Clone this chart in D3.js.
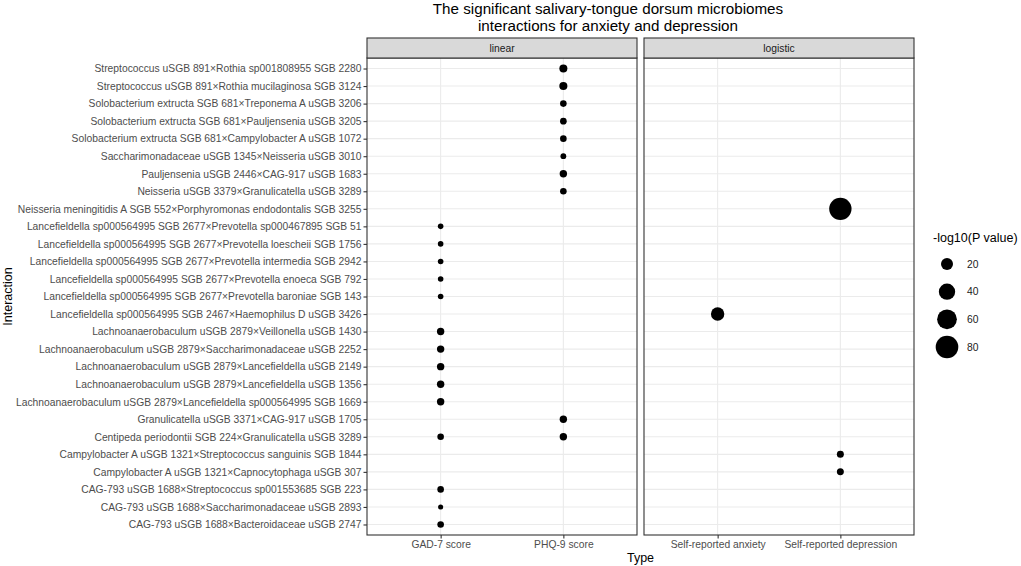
<!DOCTYPE html>
<html>
<head>
<meta charset="utf-8">
<script src="https://cdn.jsdelivr.net/npm/d3@7"></script>
<style>
  body { margin: 0; background: #fff; }
  text { font-family: "Liberation Sans", Arial, sans-serif; }
</style>
</head>
<body>
<svg id="chart"></svg>
<script>
// rows, top to bottom
const interactions = [
  "Streptococcus uSGB 891×Rothia sp001808955 SGB 2280",
  "Streptococcus uSGB 891×Rothia mucilaginosa SGB 3124",
  "Solobacterium extructa SGB 681×Treponema A uSGB 3206",
  "Solobacterium extructa SGB 681×Pauljensenia uSGB 3205",
  "Solobacterium extructa SGB 681×Campylobacter A uSGB 1072",
  "Saccharimonadaceae uSGB 1345×Neisseria uSGB 3010",
  "Pauljensenia uSGB 2446×CAG-917 uSGB 1683",
  "Neisseria uSGB 3379×Granulicatella uSGB 3289",
  "Neisseria meningitidis A SGB 552×Porphyromonas endodontalis SGB 3255",
  "Lancefieldella sp000564995 SGB 2677×Prevotella sp000467895 SGB 51",
  "Lancefieldella sp000564995 SGB 2677×Prevotella loescheii SGB 1756",
  "Lancefieldella sp000564995 SGB 2677×Prevotella intermedia SGB 2942",
  "Lancefieldella sp000564995 SGB 2677×Prevotella enoeca SGB 792",
  "Lancefieldella sp000564995 SGB 2677×Prevotella baroniae SGB 143",
  "Lancefieldella sp000564995 SGB 2467×Haemophilus D uSGB 3426",
  "Lachnoanaerobaculum uSGB 2879×Veillonella uSGB 1430",
  "Lachnoanaerobaculum uSGB 2879×Saccharimonadaceae uSGB 2252",
  "Lachnoanaerobaculum uSGB 2879×Lancefieldella uSGB 2149",
  "Lachnoanaerobaculum uSGB 2879×Lancefieldella uSGB 1356",
  "Lachnoanaerobaculum uSGB 2879×Lancefieldella sp000564995 SGB 1669",
  "Granulicatella uSGB 3371×CAG-917 uSGB 1705",
  "Centipeda periodontii SGB 224×Granulicatella uSGB 3289",
  "Campylobacter A uSGB 1321×Streptococcus sanguinis SGB 1844",
  "Campylobacter A uSGB 1321×Capnocytophaga uSGB 307",
  "CAG-793 uSGB 1688×Streptococcus sp001553685 SGB 223",
  "CAG-793 uSGB 1688×Saccharimonadaceae uSGB 2893",
  "CAG-793 uSGB 1688×Bacteroidaceae uSGB 2747"
];

const models = ["linear", "logistic"];
const linearTypes = ["GAD-7 score", "PHQ-9 score"];
const logisticTypes = ["Self-reported anxiety", "Self-reported depression"];

// one entry per point (row index into interactions)
const pointRow   = [0, 1, 2, 3, 4, 5, 6, 7, 8, 9, 10, 11, 12, 13, 14, 15, 16, 17, 18, 19, 20, 21, 21, 22, 23, 24, 25, 26];
const pointType  = [
  "PHQ-9 score", "PHQ-9 score", "PHQ-9 score", "PHQ-9 score", "PHQ-9 score", "PHQ-9 score", "PHQ-9 score", "PHQ-9 score",
  "Self-reported depression",
  "GAD-7 score", "GAD-7 score", "GAD-7 score", "GAD-7 score", "GAD-7 score",
  "Self-reported anxiety",
  "GAD-7 score", "GAD-7 score", "GAD-7 score", "GAD-7 score", "GAD-7 score",
  "PHQ-9 score", "GAD-7 score", "PHQ-9 score",
  "Self-reported depression", "Self-reported depression",
  "GAD-7 score", "GAD-7 score", "GAD-7 score"
];
const pointLogP  = [7.0, 7.2, 3.6, 3.8, 3.6, 2.0, 5.5, 3.6, 78, 1.6, 1.6, 1.6, 1.6, 1.6, 25.8,
                    5.5, 5.5, 5.5, 5.5, 5.5, 5.5, 3.6, 5.5, 4.5, 4.5, 3.6, 0.8, 3.6];

const legendBreaks = [20, 40, 60, 80];

const W = 1021, H = 566;
const margin = {left: 367, top: 38, bottom: 31};
const stripH = 20, panelGap = 7, panelW = 270;
const panelTop = margin.top + stripH, panelBottom = H - margin.bottom;

const svg = d3.select("#chart").attr("width", W).attr("height", H);

const y = d3.scalePoint().domain(interactions).range([panelTop, panelBottom]).padding(0.6);

// area grows linearly with the value (ggplot scale_size)
const area = d3.scaleLinear().domain([20, 80]).range([36, 128]);
const radius = v => Math.sqrt(Math.max(area(v), 4));

const typesByModel = {linear: linearTypes, logistic: logisticTypes};

models.forEach((m, i) => {
  const x0 = margin.left + i * (panelW + panelGap);
  const x = d3.scalePoint().domain(typesByModel[m]).range([x0, x0 + panelW]).padding(0.6);
  const g = svg.append("g");

  // grid
  g.selectAll(".hgrid").data(interactions).join("line")
      .attr("x1", x0).attr("x2", x0 + panelW)
      .attr("y1", d => y(d)).attr("y2", d => y(d))
      .attr("stroke", "#ebebeb").attr("stroke-width", 1.1);
  g.selectAll(".vgrid").data(typesByModel[m]).join("line")
      .attr("x1", d => x(d)).attr("x2", d => x(d))
      .attr("y1", panelTop).attr("y2", panelBottom)
      .attr("stroke", "#ebebeb").attr("stroke-width", 1.1);

  // points
  const idx = d3.range(pointRow.length).filter(k => typesByModel[m].includes(pointType[k]));
  g.selectAll("circle").data(idx).join("circle")
      .attr("cx", k => x(pointType[k]))
      .attr("cy", k => y(interactions[pointRow[k]]))
      .attr("r", k => radius(pointLogP[k]))
      .attr("fill", "#000");

  // panel border
  g.append("rect").attr("x", x0).attr("y", panelTop).attr("width", panelW).attr("height", panelBottom - panelTop)
      .attr("fill", "none").attr("stroke", "#333").attr("stroke-width", 1.1);

  // strip
  g.append("rect").attr("x", x0).attr("y", margin.top).attr("width", panelW).attr("height", stripH)
      .attr("fill", "#d9d9d9").attr("stroke", "#333").attr("stroke-width", 1.1);
  g.append("text").attr("x", x0 + panelW / 2).attr("y", margin.top + stripH / 2 + 3.5)
      .attr("text-anchor", "middle").attr("font-size", 10.3).attr("fill", "#1a1a1a").text(m);

  // x axis
  const xa = svg.append("g").attr("transform", `translate(0,${panelBottom})`)
      .call(d3.axisBottom(x).tickSize(3.5).tickPadding(2));
  xa.select(".domain").remove();
  xa.selectAll("line").attr("stroke", "#333").attr("stroke-width", 1.1);
  xa.selectAll("text").attr("font-size", 10.3).attr("fill", "#4d4d4d");
});

// y axis
const ya = svg.append("g").attr("transform", `translate(${margin.left},0)`)
    .call(d3.axisLeft(y).tickSize(3.5).tickPadding(2));
ya.select(".domain").remove();
ya.selectAll("line").attr("stroke", "#333").attr("stroke-width", 1.1);
ya.selectAll("text").attr("font-size", 10.3).attr("fill", "#4d4d4d");

// axis titles
svg.append("text").attr("x", margin.left + panelW + panelGap / 2).attr("y", H - 4)
    .attr("text-anchor", "middle").attr("font-size", 12.5).text("Type");
svg.append("text").attr("transform", `translate(12,${(panelTop + panelBottom) / 2}) rotate(-90)`)
    .attr("text-anchor", "middle").attr("font-size", 12.5).text("Interaction");

// title
const title = svg.append("text").attr("text-anchor", "middle").attr("font-size", 15.2);
title.append("tspan").attr("x", 608).attr("y", 14).text("The significant salivary-tongue dorsum microbiomes");
title.append("tspan").attr("x", 608).attr("y", 31).text("interactions for anxiety and depression");

// legend
const lg = svg.append("g").attr("transform", "translate(933,0)");
lg.append("text").attr("x", 0).attr("y", 242).attr("font-size", 12.5).text("-log10(P value)");
const ly = d3.scalePoint().domain(legendBreaks).range([264, 347]);
lg.selectAll("circle").data(legendBreaks).join("circle")
    .attr("cx", 14).attr("cy", d => ly(d)).attr("r", d => radius(d)).attr("fill", "#000");
lg.selectAll(".lab").data(legendBreaks).join("text")
    .attr("x", 34).attr("y", d => ly(d) + 3.5).attr("font-size", 10.3).attr("fill", "#1a1a1a").text(d => d);
</script>
</body>
</html>
